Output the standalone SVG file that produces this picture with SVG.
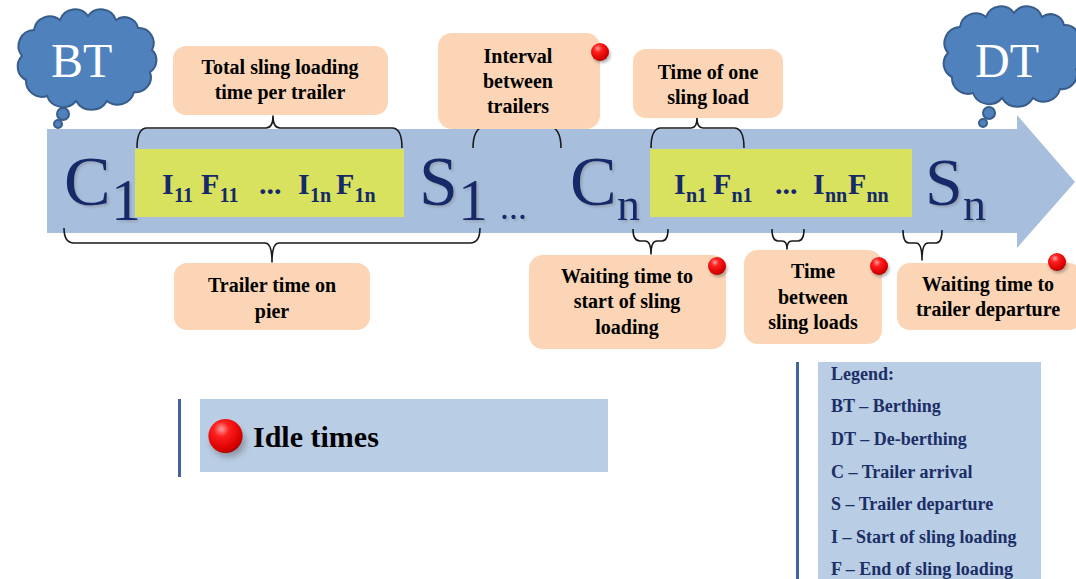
<svg xmlns="http://www.w3.org/2000/svg" width="1076" height="579" viewBox="0 0 1076 579">
  <style>
    .callout { fill: #FBD5B5; }
    .callout-text { font-family: "Liberation Serif", "Times New Roman", serif; font-weight: bold; font-size: 20px; fill: #000; text-anchor: middle; }
    .big { font-family: "Liberation Serif", "Times New Roman", serif; fill: #14296A; filter: url(#softShadow); }
    .seq { font-family: "Liberation Serif", "Times New Roman", serif; font-weight: bold; font-size: 30px; fill: #14296A; }
    .sub { font-size: 20px; }
    .brace { fill: none; stroke: #1A1A1A; stroke-width: 1.6; stroke-linejoin: round; }
    .cloud { fill: #4F81BD; stroke: #385D8A; stroke-width: 2; }
    .cloud-text { font-family: "Liberation Serif", "Times New Roman", serif; font-size: 48px; fill: #FFFFFF; }
    .panel { fill: #B9CDE5; }
    .panel-bar { stroke: #41649A; stroke-width: 3; }
    .legend-text { font-family: "Liberation Serif", "Times New Roman", serif; font-weight: bold; font-size: 18px; fill: #1C2E66; }
  </style>
  <defs>
    <radialGradient id="dotGrad" cx="0.38" cy="0.3" r="0.75">
      <stop offset="0" stop-color="#FF9C9C"/>
      <stop offset="0.3" stop-color="#FF1E1E"/>
      <stop offset="0.8" stop-color="#D80000"/>
      <stop offset="1" stop-color="#A80000"/>
    </radialGradient>
    <filter id="blur2" x="-50%" y="-50%" width="200%" height="200%">
      <feGaussianBlur stdDeviation="1.6"/>
    </filter>
    <filter id="softShadow" x="-20%" y="-20%" width="140%" height="140%">
      <feDropShadow dx="2" dy="2" stdDeviation="0.8" flood-color="#8A8F9E" flood-opacity="0.55"/>
    </filter>
    <!-- glossy red marker, radius 9 -->
    <g id="dot">
      <ellipse cx="1.5" cy="3" rx="9" ry="8" fill="#555" opacity="0.45" filter="url(#blur2)"/>
      <circle cx="0" cy="0" r="9" fill="url(#dotGrad)"/>
    </g>
    <!-- cloud outline, 150 x 100 local box -->
    <path id="cloudShape" d="M12,46 A16,16 0 0 1 24,20 A16,16 0 0 1 50,10 A16,16 0 0 1 78,6 A16,16 0 0 1 106,10 A14,14 0 0 1 128,18 A15,15 0 0 1 142,40 A14,14 0 0 1 140,62 A15,15 0 0 1 124,82 A17,17 0 0 1 97,91 A18,18 0 0 1 66,91 A17,17 0 0 1 37,86 A16,16 0 0 1 16,70 A15,15 0 0 1 12,46 Z"/>
  </defs>

  <!-- main timeline arrow -->
  <g id="timeline">
    <path d="M47,129 H1017 V115 L1075,182 L1017,248 V233 H47 Z" fill="#A7BFDC"/>
    <rect x="135" y="149" width="269" height="68" fill="#D8E25F"/>
    <rect x="650" y="149" width="262" height="68" fill="#D8E25F"/>
  </g>

  <!-- clouds -->
  <g id="node-bt">
    <use href="#cloudShape" class="cloud" transform="translate(10,10)"/>
    <circle cx="63" cy="114" r="6" class="cloud"/>
    <circle cx="58" cy="124" r="4" class="cloud"/>
    <text x="51" y="77" class="cloud-text">BT</text>
  </g>
  <g id="node-dt">
    <use href="#cloudShape" class="cloud" transform="translate(936,7)"/>
    <circle cx="989" cy="113" r="6" class="cloud"/>
    <circle cx="983" cy="123" r="4" class="cloud"/>
    <text x="975" y="77" class="cloud-text">DT</text>
  </g>

  <!-- event labels on the timeline -->
  <g id="node-c1">
    <text class="big" x="64" y="205" font-size="70">C</text>
    <text class="big" x="111" y="220" font-size="60">1</text>
  </g>
  <g id="node-seq1">
    <text class="seq" y="194"><tspan x="162">I</tspan><tspan class="sub" x="174" y="202">11</tspan><tspan x="201" y="194">F</tspan><tspan class="sub" x="219.5" y="202">11</tspan><tspan x="259" y="194">...</tspan><tspan x="298" y="194">I</tspan><tspan class="sub" x="310" y="202">1n</tspan><tspan x="336" y="194">F</tspan><tspan class="sub" x="354.5" y="202">1n</tspan></text>
  </g>
  <g id="node-s1">
    <text class="big" x="419" y="205" font-size="70">S</text>
    <text class="big" x="458" y="220" font-size="60">1</text>
  </g>
  <g id="node-gap">
    <text class="big" x="500" y="219" font-size="36">...</text>
  </g>
  <g id="node-cn">
    <text class="big" x="570" y="205" font-size="70">C</text>
    <text class="big" x="617" y="220" font-size="46">n</text>
  </g>
  <g id="node-seqn">
    <text class="seq" y="194"><tspan x="674">I</tspan><tspan class="sub" x="686" y="202">n1</tspan><tspan x="713" y="194">F</tspan><tspan class="sub" x="731.5" y="202">n1</tspan><tspan x="775" y="194">...</tspan><tspan x="813" y="194">I</tspan><tspan class="sub" x="825" y="202">nn</tspan><tspan x="848" y="194">F</tspan><tspan class="sub" x="866.5" y="202">nn</tspan></text>
  </g>
  <g id="node-sn">
    <text class="big" x="925" y="205" font-size="68">S</text>
    <text class="big" x="963" y="220" font-size="46">n</text>
  </g>

  <!-- braces linking spans to their callouts -->
  <g id="connectors">
    <path class="brace" d="M137,148 Q137,128 147,128 H266 Q273,128 273,116 Q273,128 280,128 H392 Q402,128 402,148"/>
    <path class="brace" d="M64,228 Q64,243 74,243 H265 Q272,243 272,262 Q272,243 279,243 H470 Q480,243 480,228"/>
    <path class="brace" d="M473,148 Q473,128 485,126 H549 Q561,128 561,148"/>
    <path class="brace" d="M651,148 Q651,128 661,128 H691 Q697,128 697,118 Q697,128 703,128 H734 Q744,128 744,148"/>
    <path class="brace" d="M633,229 Q633,241 640,241 H645 Q651,241 651,254 Q651,241 657,241 H662 Q668,241 668,229"/>
    <path class="brace" d="M772,229 Q772,241 778,241 H782 Q787,241 787,249 Q787,241 792,241 H798 Q804,241 804,229"/>
    <path class="brace" d="M903,230 Q903,243 909,243 H916 Q922,243 922,260 Q922,243 928,243 H936 Q942,243 942,230"/>
  </g>

  <!-- callouts -->
  <g id="callout-total">
    <rect class="callout" x="173" y="46" width="215" height="69" rx="13"/>
    <text class="callout-text" x="280" y="74">Total sling loading</text>
    <text class="callout-text" x="280" y="99">time per trailer</text>
  </g>
  <g id="callout-interval">
    <rect class="callout" x="438" y="33" width="162" height="96" rx="14"/>
    <text class="callout-text" x="518" y="63">Interval</text>
    <text class="callout-text" x="518" y="88">between</text>
    <text class="callout-text" x="518" y="113">trailers</text>
    <use href="#dot" transform="translate(600,52)"/>
  </g>
  <g id="callout-one-load">
    <rect class="callout" x="633" y="49" width="150" height="69" rx="13"/>
    <text class="callout-text" x="708" y="79">Time of one</text>
    <text class="callout-text" x="708" y="104">sling load</text>
  </g>
  <g id="callout-pier">
    <rect class="callout" x="174" y="263" width="196" height="67" rx="13"/>
    <text class="callout-text" x="272" y="292">Trailer time on</text>
    <text class="callout-text" x="272" y="318">pier</text>
  </g>
  <g id="callout-wait-start">
    <rect class="callout" x="529" y="255" width="197" height="94" rx="14"/>
    <text class="callout-text" x="627" y="283">Waiting time to</text>
    <text class="callout-text" x="627" y="308">start of sling</text>
    <text class="callout-text" x="627" y="334">loading</text>
    <use href="#dot" transform="translate(717,266)"/>
  </g>
  <g id="callout-between">
    <rect class="callout" x="744" y="250" width="138" height="94" rx="14"/>
    <text class="callout-text" x="813" y="278">Time</text>
    <text class="callout-text" x="813" y="304">between</text>
    <text class="callout-text" x="813" y="329">sling loads</text>
    <use href="#dot" transform="translate(879,266)"/>
  </g>
  <g id="callout-wait-departure">
    <rect class="callout" x="897" y="263" width="185" height="67" rx="13"/>
    <text class="callout-text" x="988" y="291">Waiting time to</text>
    <text class="callout-text" x="988" y="316">trailer departure</text>
    <use href="#dot" transform="translate(1057,262)"/>
  </g>

  <!-- key for the red markers -->
  <g id="idle-key">
    <line class="panel-bar" x1="179.5" y1="399" x2="179.5" y2="477"/>
    <rect class="panel" x="200" y="399" width="408" height="73"/>
    <use href="#dot" transform="translate(225.5,436) scale(1.9)"/>
    <text x="253" y="447" font-family="'Liberation Serif', 'Times New Roman', serif" font-weight="bold" font-size="30" fill="#000">Idle times</text>
  </g>

  <!-- legend -->
  <g id="legend">
    <line class="panel-bar" x1="797.5" y1="362" x2="797.5" y2="579"/>
    <rect class="panel" x="818" y="362" width="223" height="217"/>
    <text class="legend-text" x="831" y="380">Legend:</text>
    <text class="legend-text" x="831" y="412">BT – Berthing</text>
    <text class="legend-text" x="831" y="445">DT – De-berthing</text>
    <text class="legend-text" x="831" y="478">C – Trailer arrival</text>
    <text class="legend-text" x="831" y="510">S – Trailer departure</text>
    <text class="legend-text" x="831" y="543">I – Start of sling loading</text>
    <text class="legend-text" x="831" y="575">F – End of sling loading</text>
  </g>
</svg>
